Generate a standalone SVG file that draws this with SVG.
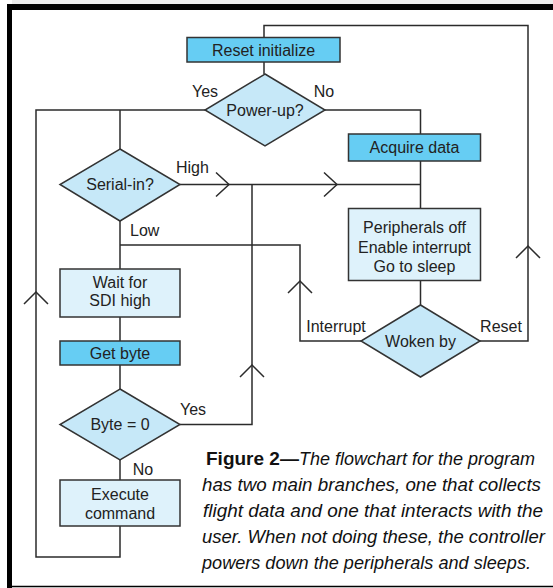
<svg xmlns="http://www.w3.org/2000/svg" width="553" height="588" viewBox="0 0 553 588">
<style>
.ln{fill:none;stroke:#2b2b2b;stroke-width:1.5}
.ch{fill:none;stroke:#2b2b2b;stroke-width:1.5;stroke-linejoin:miter}
.dk{fill:#66cdf3;stroke:#333;stroke-width:1.5}
.lt{fill:#def2fb;stroke:#333;stroke-width:1.5}
.dm{fill:#c6e8f8;stroke:#333;stroke-width:1.5}
text{font-family:"Liberation Sans",Arial,sans-serif;font-size:16px;fill:#222}
.c{text-anchor:middle}
.cap{font-size:19px;fill:#111}
.it{font-style:italic}
</style>
<rect x="0" y="0" width="553" height="588" fill="#fff"/>
<rect x="12" y="0" width="541" height="4" fill="#ececec"/>
<g id="frame">
<rect x="7" y="4" width="546" height="6" fill="#000"/>
<rect x="7" y="4" width="5" height="584" fill="#000"/>
<line x1="7" y1="586.5" x2="553" y2="586.5" stroke="#000" stroke-width="1.5"/>
</g>
<g id="connectors">
<polyline class="ln" points="264,37 264,25.5 528,25.5 528,341 480,341"/>
<line class="ln" x1="264" y1="62" x2="264" y2="74"/>
<polyline class="ln" points="205,110 36,110 36,557 120,557 120,526"/>
<line class="ln" x1="120" y1="110" x2="120" y2="149"/>
<polyline class="ln" points="325,110 420.5,110 420.5,134"/>
<line class="ln" x1="420.5" y1="161" x2="420.5" y2="208.5"/>
<line class="ln" x1="180" y1="184.5" x2="420.5" y2="184.5"/>
<line class="ln" x1="420.5" y1="281" x2="420.5" y2="305"/>
<polyline class="ln" points="120,221 120,269"/>
<polyline class="ln" points="120,245 300,245 300,341 361,341"/>
<line class="ln" x1="120" y1="317" x2="120" y2="341"/>
<line class="ln" x1="120" y1="365" x2="120" y2="389"/>
<polyline class="ln" points="180,424.5 252,424.5 252,184.5"/>
<line class="ln" x1="120" y1="460" x2="120" y2="480"/>
<polyline class="ch" points="24,304 36,292 48,304"/>
<polyline class="ch" points="240,377 252,365 264,377"/>
<polyline class="ch" points="288,293 300,281 312,293"/>
<polyline class="ch" points="516,258 528,246 540,258"/>
<polyline class="ch" points="216,172.5 229,184.5 216,196.5"/>
<polyline class="ch" points="324,172.5 337,184.5 324,196.5"/>
</g>
<g id="reset-initialize">
<rect class="dk" x="187" y="37.5" width="153" height="24.5"/>
<text class="c" x="263.5" y="55.5">Reset initialize</text>
</g>
<g id="power-up">
<polygon class="dm" points="265,74 325,110 265,146 205,110"/>
<text class="c" x="265" y="116">Power-up?</text>
</g>
<g id="labels">
<text class="c" x="205" y="97">Yes</text>
<text class="c" x="324" y="97">No</text>
<text x="176" y="173">High</text>
<text x="130" y="236">Low</text>
<text class="c" x="193" y="415">Yes</text>
<text class="c" x="143" y="475">No</text>
<text class="c" x="336" y="332">Interrupt</text>
<text class="c" x="501" y="332">Reset</text>
</g>
<g id="acquire-data">
<rect class="dk" x="348.5" y="134" width="132" height="27"/>
<text class="c" x="414.5" y="153">Acquire data</text>
</g>
<g id="serial-in">
<polygon class="dm" points="120,149 180,184.5 120,221 60,184.5"/>
<text class="c" x="120" y="190">Serial-in?</text>
</g>
<g id="peripherals-off">
<rect class="lt" x="348.5" y="208.5" width="132" height="72"/>
<text class="c" x="414.5" y="233">Peripherals off</text>
<text class="c" x="414.5" y="252.5">Enable interrupt</text>
<text class="c" x="414.5" y="272">Go to sleep</text>
</g>
<g id="woken-by">
<polygon class="dm" points="420.5,305 480,341 420.5,377 361,341"/>
<text class="c" x="420.5" y="347">Woken by</text>
</g>
<g id="wait-sdi">
<rect class="lt" x="60" y="269" width="120" height="48"/>
<text class="c" x="120" y="288">Wait for</text>
<text class="c" x="120" y="306">SDI high</text>
</g>
<g id="get-byte">
<rect class="dk" x="60" y="341" width="120" height="24"/>
<text class="c" x="120" y="358.5">Get byte</text>
</g>
<g id="byte-zero">
<polygon class="dm" points="120,389 180,424.5 120,460 60,424.5"/>
<text class="c" x="120" y="430">Byte = 0</text>
</g>
<g id="execute-command">
<rect class="lt" x="60" y="480" width="120" height="46"/>
<text class="c" x="120" y="499.5">Execute</text>
<text class="c" x="120" y="518.5">command</text>
</g>
<g id="caption">
<text class="cap" x="206" y="465"><tspan font-weight="bold">Figure 2—</tspan><tspan class="it" font-size="18">The flowchart for the program</tspan></text>
<text class="cap it" x="202" y="491" textLength="339" lengthAdjust="spacingAndGlyphs">has two main branches, one that collects</text>
<text class="cap it" x="203" y="517" textLength="340" lengthAdjust="spacingAndGlyphs">flight data and one that interacts with the</text>
<text class="cap it" x="202" y="543" textLength="343" lengthAdjust="spacingAndGlyphs">user. When not doing these, the controller</text>
<text class="cap it" x="202" y="569" textLength="329" lengthAdjust="spacingAndGlyphs">powers down the peripherals and sleeps.</text>
</g>
</svg>
